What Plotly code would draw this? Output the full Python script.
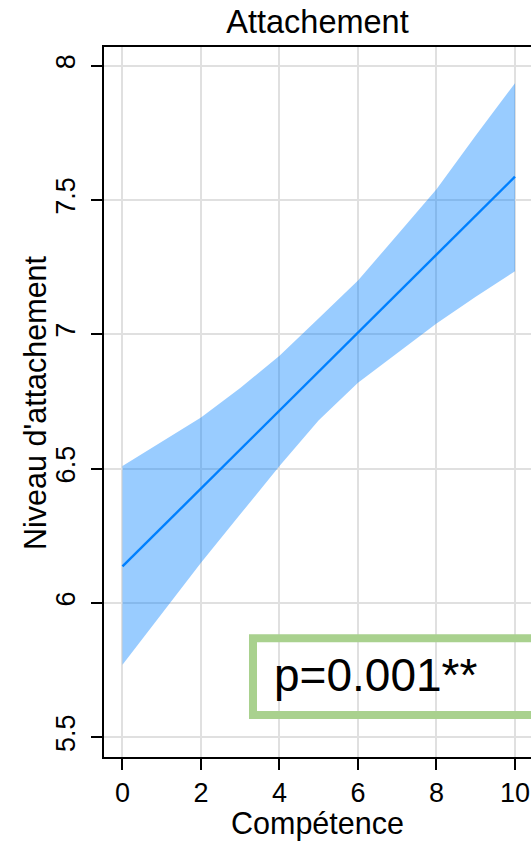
import plotly.graph_objects as go

competence = [0, 1, 2, 3, 4, 5, 6, 7, 8, 9, 10]
fit = [6.136, 6.281, 6.426, 6.571, 6.716, 6.862, 7.007, 7.152, 7.297, 7.442, 7.587]
upper = [6.51, 6.60, 6.69, 6.80, 6.92, 7.06, 7.20, 7.37, 7.54, 7.74, 7.935]
lower = [5.77, 5.96, 6.15, 6.33, 6.51, 6.68, 6.82, 6.93, 7.04, 7.14, 7.235]

x_ticks = [0, 2, 4, 6, 8, 10]
y_ticks = [5.5, 6, 6.5, 7, 7.5, 8]
y_tick_labels = ["5.5", "6", "6.5", "7", "7.5", "8"]
title_text = "Attachement"
x_title = "Compétence"
y_title = "Niveau d'attachement"
p_text = "p=0.001**"

FONT = "Liberation Sans, Arial, sans-serif"

fig = go.Figure()
fig.add_trace(go.Scatter(
    x=competence + competence[::-1],
    y=upper + lower[::-1],
    fill="toself", fillcolor="rgba(0,127,255,0.4)",
    line=dict(width=0), mode="lines", hoverinfo="skip", showlegend=False))
fig.add_trace(go.Scatter(
    x=competence, y=fit, mode="lines",
    line=dict(color="#0080FF", width=2.4), showlegend=False))

fig.add_shape(type="rect", xref="x", yref="y",
              x0=3.325, x1=11.5, y0=5.583, y1=5.869,
              line=dict(color="#A9D18E", width=8), fillcolor="rgba(0,0,0,0)",
              layer="above")
fig.add_annotation(x=3.80, y=5.732, xref="x", yref="y", text=p_text,
                   showarrow=False, xanchor="left", yanchor="middle",
                   font=dict(family=FONT, size=46, color="black"))
fig.add_annotation(x=-0.1616, y=0.5, xref="paper", yref="paper", text=y_title,
                   showarrow=False, xanchor="center", yanchor="middle",
                   textangle=-90,
                   font=dict(family=FONT, size=30.5, color="black"))
fig.add_annotation(x=0.5, y=-0.093, xref="paper", yref="paper", text=x_title,
                   showarrow=False, xanchor="center", yanchor="middle",
                   font=dict(family=FONT, size=30.5, color="black"))

fig.update_layout(
    width=531, height=842,
    margin=dict(l=104, r=0, t=47, b=85),
    paper_bgcolor="white", plot_bgcolor="white",
    font=dict(family=FONT, color="black"),
    title=dict(text=title_text, x=0.5, xref="paper", xanchor="center",
               y=0.974, yref="container", yanchor="middle",
               font=dict(family=FONT, size=32.5, color="black")),
    showlegend=False,
)
fig.update_xaxes(
    range=[-0.471, 10.408], tickvals=x_ticks, ticktext=[str(v) for v in x_ticks],
    showgrid=True, gridcolor="#E0E0E0", gridwidth=2, zeroline=False,
    showline=True, linecolor="black", linewidth=2, mirror=True,
    ticks="outside", ticklen=11, tickwidth=2, tickcolor="black",
    tickfont=dict(size=27, family=FONT),
)
fig.update_yaxes(
    range=[5.4267, 8.0696], tickvals=y_ticks, ticktext=y_tick_labels,
    showgrid=True, gridcolor="#E0E0E0", gridwidth=2, zeroline=False,
    showline=True, linecolor="black", linewidth=2, mirror=False,
    ticks="outside", ticklen=11, tickwidth=2, tickcolor="black",
    tickangle=-90, tickfont=dict(size=27, family=FONT), ticklabelstandoff=5,
)

fig.write_html(
    "out.html",
    config={"displayModeBar": False},
    post_script="document.documentElement.style.overflow='hidden';"
                "document.body.style.margin='0';document.body.style.overflow='hidden';",
)
